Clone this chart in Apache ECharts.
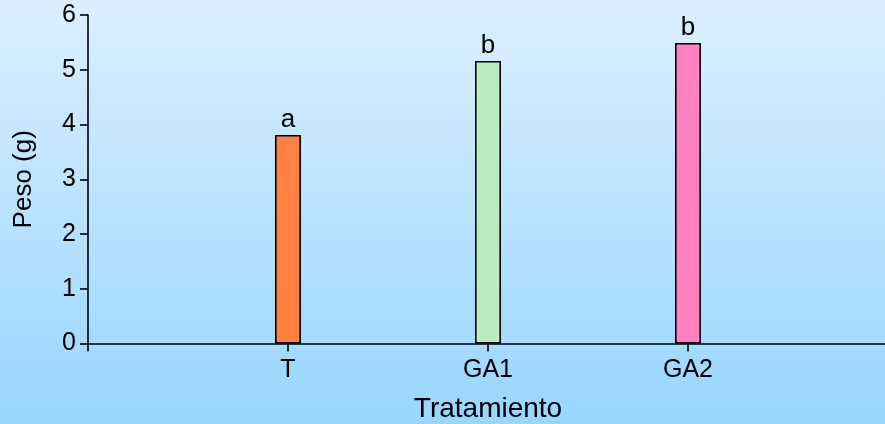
<!DOCTYPE html>
<html>
<head>
<meta charset="utf-8">
<script src="https://cdn.jsdelivr.net/npm/echarts@6/dist/echarts.min.js"></script>
<style>html,body{margin:0;padding:0;}#c{width:885px;height:424px;}</style>
</head>
<body>
<div id="c"></div>
<script>
const categories = ['', 'T', 'GA1', 'GA2', ''];
const values = ['-', 3.81, 5.16, 5.49, '-'];
const letters = ['', 'a', 'b', 'b', ''];
const barColors = ['#000000', '#ff8040', '#b9ecc0', '#ff80c0', '#000000'];
const yTicks = [0, 6, 1];

const chart = echarts.init(document.getElementById('c'));
const font = 'Liberation Sans, Arial, sans-serif';
chart.setOption({
  backgroundColor: {
    type: 'linear', x: 0, y: 0, x2: 0, y2: 1,
    colorStops: [{offset: 0, color: '#dcefff'}, {offset: 1, color: '#98d6fe'}]
  },
  animation: false,
  grid: {left: 88, right: -3, top: 15, bottom: 80.5, outerBoundsMode: 'none', containLabel: false},
  xAxis: {
    type: 'category',
    data: categories,
    boundaryGap: false,
    name: 'Tratamiento',
    nameLocation: 'middle',
    nameGap: 52,
    nameTextStyle: {fontFamily: font, fontSize: 28, color: '#000'},
    axisLine: {lineStyle: {color: '#000', width: 1.6}},
    axisTick: {length: 8, lineStyle: {color: '#000', width: 1.6}},
    axisLabel: {fontFamily: font, fontSize: 25, color: '#000', margin: 14},
    splitLine: {show: false}
  },
  yAxis: {
    type: 'value',
    min: yTicks[0], max: yTicks[1], interval: yTicks[2],
    name: 'Peso (g)',
    nameLocation: 'middle',
    nameGap: 51,
    nameTextStyle: {fontFamily: font, fontSize: 26, color: '#000'},
    axisLine: {show: true, lineStyle: {color: '#000', width: 1.6}},
    axisTick: {show: true, length: 8, lineStyle: {color: '#000', width: 1.6}},
    axisLabel: {fontFamily: font, fontSize: 25, color: '#000', margin: 12},
    splitLine: {show: false}
  },
  series: [{
    type: 'bar',
    data: values.map((v, i) => ({value: v, itemStyle: {color: barColors[i]}})),
    barWidth: 26,
    itemStyle: {borderColor: '#000', borderWidth: 1.6},
    label: {
      show: true, position: 'top', distance: 2,
      fontFamily: font, fontSize: 26, color: '#000',
      formatter: p => letters[p.dataIndex]
    }
  }]
});
</script>
</body>
</html>
